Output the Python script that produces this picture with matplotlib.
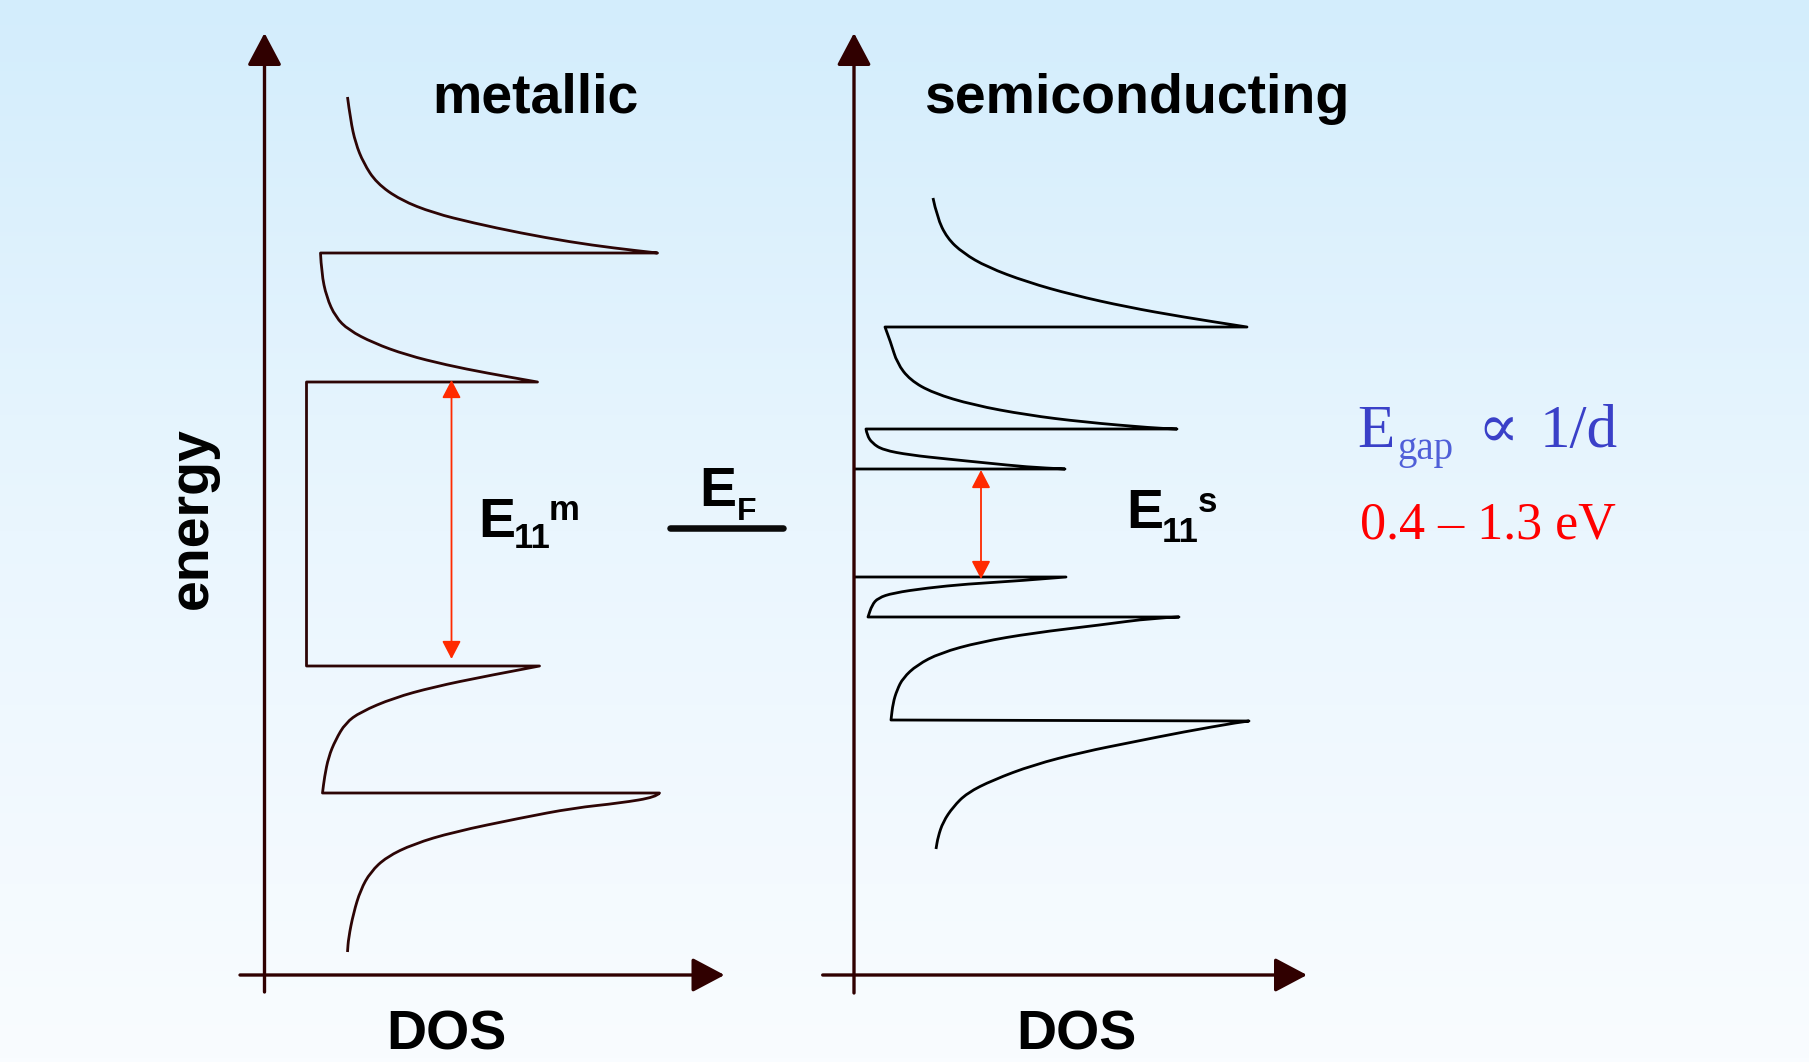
import numpy as np
import matplotlib.pyplot as plt
from matplotlib.colors import LinearSegmentedColormap
from matplotlib.path import Path
from matplotlib.patches import PathPatch

# Schematic DOS of carbon nanotubes, arbitrary units, E_F = 0
# metallic tube: van Hove branches from top to bottom (DOS, energy)
m_b1_dos = [0.83, 0.86, 0.91, 0.99, 1.12, 1.36, 1.69, 2.09, 2.56, 3.06, 3.49, 3.93]
m_b1_e = [4.31, 4.08, 3.85, 3.65, 3.45, 3.28, 3.15, 3.05, 2.95, 2.86, 2.80, 2.75]
m_b2_dos = [0.56, 0.57, 0.62, 0.71, 0.84, 1.09, 1.42, 1.82, 2.22, 2.73]
m_b2_e = [2.75, 2.55, 2.31, 2.11, 1.98, 1.85, 1.73, 1.63, 1.55, 1.46]
m_flat_dos = [0.42, 0.42]          # constant DOS between the E11 singularities
m_e11 = [1.46, -1.38]
m_b3_dos = [2.75, 2.22, 1.69, 1.29, 0.96, 0.81, 0.71, 0.64, 0.60, 0.58]
m_b3_e = [-1.38, -1.48, -1.59, -1.70, -1.84, -1.95, -2.12, -2.29, -2.49, -2.65]
m_b4_dos = [3.95, 3.92, 3.56, 3.09, 2.56, 1.89, 1.49, 1.22, 1.06, 0.96, 0.89, 0.84, 0.83]
m_b4_e = [-2.65, -2.69, -2.75, -2.80, -2.90, -3.04, -3.16, -3.29, -3.44, -3.62, -3.85, -4.10, -4.24]

# semiconducting tube
s_b1_dos = [0.79, 0.83, 0.93, 1.09, 1.33, 1.73, 2.19, 2.73, 3.29, 3.93]
s_b1_e = [3.30, 3.11, 2.90, 2.75, 2.61, 2.46, 2.33, 2.21, 2.11, 2.01]
s_b2_dos = [0.31, 0.37, 0.43, 0.56, 0.79, 1.19, 1.73, 2.29, 2.99, 3.23]
s_b2_e = [2.01, 1.85, 1.65, 1.48, 1.35, 1.23, 1.13, 1.06, 1.00, 0.99]
s_b3_dos = [0.12, 0.13, 0.18, 0.29, 0.56, 0.93, 1.33, 1.73, 2.11]
s_b3_e = [0.99, 0.93, 0.85, 0.78, 0.73, 0.69, 0.65, 0.61, 0.59]
s_e11 = [0.59, -0.49]              # band edges around the gap
s_b4_dos = [2.12, 1.63, 1.13, 0.73, 0.39, 0.24, 0.18, 0.14]
s_b4_e = [-0.49, -0.53, -0.56, -0.60, -0.65, -0.70, -0.77, -0.89]
s_b5_dos = [3.25, 2.99, 2.46, 1.79, 1.26, 0.86, 0.63, 0.49, 0.43, 0.39, 0.37]
s_b5_e = [-0.89, -0.90, -0.97, -1.05, -1.14, -1.25, -1.37, -1.50, -1.62, -1.75, -1.92]
s_b6_dos = [3.95, 3.86, 3.29, 2.79, 2.29, 1.79, 1.39, 1.13, 0.99, 0.89, 0.84, 0.82]
s_b6_e = [-1.93, -1.94, -2.04, -2.14, -2.24, -2.37, -2.52, -2.65, -2.79, -2.94, -3.09, -3.21]

W, H = 1809, 1062
E_MIN, E_MAX = -4.47, 4.95
AXIS = '#300000'
RED = '#ff2a00'

fig = plt.figure(figsize=(W / 100, H / 100), dpi=100)

# sky gradient behind everything
bg = fig.add_axes([0, 0, 1, 1], zorder=-10)
sky = LinearSegmentedColormap.from_list('sky', ['#d3edfc', '#eaf6fe', '#f9fcff'])
bg.imshow(np.linspace(0, 1, 256)[:, None], aspect='auto', cmap=sky,
          extent=[0, 1, 0, 1], origin='upper')
bg.axis('off')


def panel(left_px, tip_px, dos_tail, e_tail):
    ax = fig.add_axes([left_px / W, (H - 975) / H, (tip_px - left_px) / W, (975 - 33) / H])
    dos_max = (tip_px - left_px) / 100
    ax.set_xlim(0, dos_max)
    ax.set_ylim(E_MIN, E_MAX)
    ax.axis('off')
    head = dict(arrowstyle='-|>,head_length=1.0,head_width=0.53', mutation_scale=20,
                lw=2.4, color=AXIS, shrinkA=0, shrinkB=0)
    ax.annotate('', xy=(0, E_MAX), xytext=(0, e_tail), arrowprops=head,
                annotation_clip=False)
    ax.annotate('', xy=(dos_max, E_MIN), xytext=(dos_tail, E_MIN), arrowprops=head,
                annotation_clip=False)
    return ax


def gap_arrow(ax, dos, e_top, e_bot):
    ax.annotate('', xy=(dos, e_top), xytext=(dos, e_bot),
                arrowprops=dict(arrowstyle='<|-|>,head_length=1.0,head_width=0.52',
                                mutation_scale=11, lw=1.3, color=RED,
                                shrinkA=0, shrinkB=0))


def outline(ax, pieces, color):
    # pieces: (dos, energy, smooth). Smooth pieces are stroked as quadratic
    # Bezier segments through the read points, the rest as straight lines.
    verts, codes = [], []
    for dos, e, smooth in pieces:
        pts = list(zip(dos, e))
        verts.append(pts[0])
        codes.append(Path.MOVETO if not codes else Path.LINETO)
        if smooth:
            for a, b in zip(pts[1:-1], pts[2:]):
                verts += [a, ((a[0] + b[0]) / 2, (a[1] + b[1]) / 2)]
                codes += [Path.CURVE3, Path.CURVE3]
        else:
            verts += pts[1:-1]
            codes += [Path.LINETO] * (len(pts) - 2)
        verts.append(pts[-1])
        codes.append(Path.LINETO)
    ax.add_patch(PathPatch(Path(verts, codes), fill=False, lw=2.0, edgecolor=color,
                           joinstyle='round', capstyle='butt'))


# metallic panel
ax_m = panel(264.5, 724.5, -0.245, -4.64)
outline(ax_m, [(m_b1_dos, m_b1_e, True), (m_b2_dos, m_b2_e, True),
               (m_flat_dos, m_e11, False), (m_b3_dos, m_b3_e, True),
               (m_b4_dos, m_b4_e, True)], '#2d0505')
gap_arrow(ax_m, 1.87, m_e11[0] + 0.02, m_e11[1] + 0.07)

# semiconducting panel
ax_s = panel(854, 1307, -0.313, -4.65)
outline(ax_s, [(s_b1_dos, s_b1_e, True), (s_b2_dos, s_b2_e, True),
               (s_b3_dos, s_b3_e, True), ([s_b3_dos[-1], 0], [s_e11[0]] * 2, False)],
        'black')
outline(ax_s, [([0, s_b4_dos[0]], [s_e11[1]] * 2, False), (s_b4_dos, s_b4_e, True),
               (s_b5_dos, s_b5_e, True), (s_b6_dos, s_b6_e, True)], 'black')
gap_arrow(ax_s, 1.27, s_e11[0] - 0.01, s_e11[1] - 0.02)


def px(x, y):
    return x / W, 1 - y / H


sans = dict(family='Liberation Sans', weight='bold', color='black', va='baseline')
serif = dict(family=['Liberation Serif', 'DejaVu Serif'], va='baseline')

fig.text(*px(535, 112.7), 'metallic', fontsize=40, ha='center', **sans)
fig.text(*px(1136.5, 112.7), 'semiconducting', fontsize=40, ha='center', **sans)
fig.text(*px(206.7, 518.3), 'energy', fontsize=40, ha='center', rotation=90,
         rotation_mode='anchor', **sans)
fig.text(*px(446, 1050), 'DOS', fontsize=40, ha='center', **sans)
fig.text(*px(1076.5, 1050), 'DOS', fontsize=40, ha='center', **sans)

# E11 labels
fig.text(*px(478, 536.7), 'E', fontsize=40, ha='left', **sans)
fig.text(*px(514, 548), '11', fontsize=25, ha='left', **sans)
fig.text(*px(549, 520), 'm', fontsize=25, ha='left', **sans)
fig.text(*px(1126, 528.3), 'E', fontsize=40, ha='left', **sans)
fig.text(*px(1162, 541.7), '11', fontsize=25, ha='left', **sans)
fig.text(*px(1198, 511.7), 's', fontsize=25, ha='left', **sans)

# Fermi level marker
fig.text(*px(699, 505.7), 'E', fontsize=40, ha='left', **sans)
fig.text(*px(737, 520), 'F', fontsize=23, ha='left', **sans)
fig.add_artist(plt.Line2D([670 / W, 782.5 / W], [1 - 528.3 / H] * 2, lw=4.7,
                          color='#0a0a0a', solid_capstyle='round'))

# gap scaling note
fig.text(*px(1357, 447.3), 'E', fontsize=44, color='#3a40c8', ha='left', **serif)
fig.text(*px(1397, 459), 'gap', fontsize=28, color='#4f5fd8', ha='left', **serif)
fig.text(*px(1477, 447.3), '\u221d', fontsize=44, color='#3a40c8', ha='left', **serif)
fig.text(*px(1540, 447.3), '1/d', fontsize=44, color='#3a40c8', ha='left', **serif)
fig.text(*px(1360, 538.3), '0.4 \u2013 1.3 eV', fontsize=37.5, color='#ff0000',
         ha='left', **serif)

fig.savefig('out.png', dpi=100)
